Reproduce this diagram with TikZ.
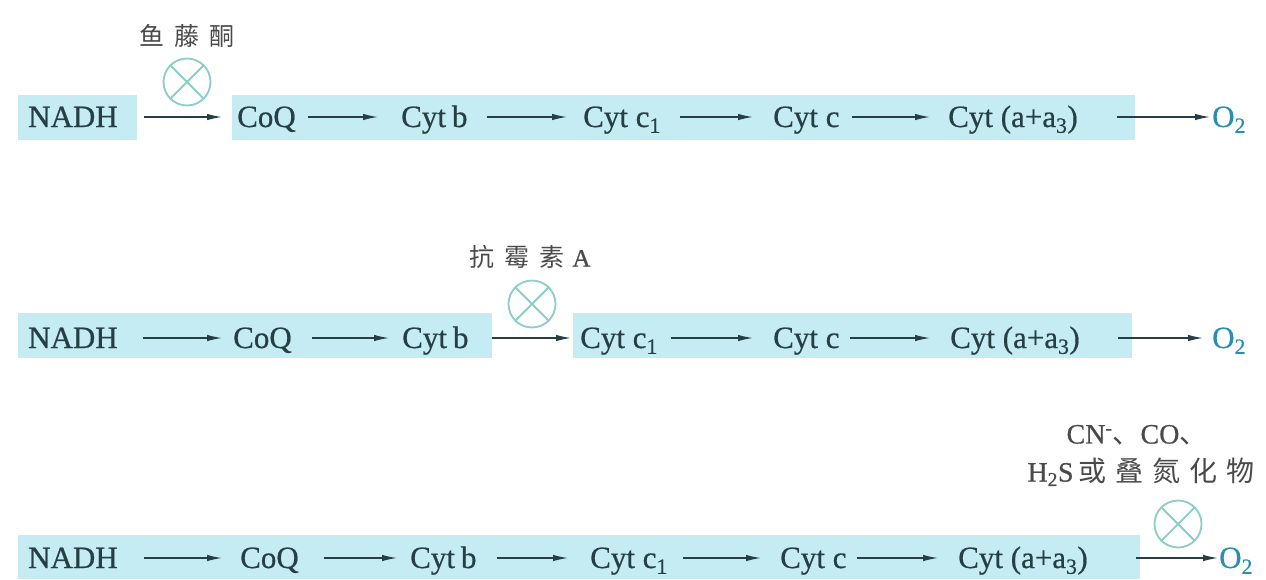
\documentclass[tikz,border=0pt]{standalone}
\usepackage{fontspec}
\setmainfont{Liberation Serif}[FakeBold=0.6]
\newfontfamily\cjk{Noto Sans CJK SC}
\usetikzlibrary{arrows.meta}
\definecolor{band}{HTML}{C4ECF2}
\definecolor{ink}{HTML}{263F44}
\definecolor{oxy}{HTML}{2A8DB3}
\definecolor{inhib}{HTML}{8ACDC9}
\definecolor{lab}{HTML}{4A4A4A}
\begin{document}
\begin{tikzpicture}[x=1pt,y=-1pt,
  item/.style={inner sep=0pt, text height=20pt, text depth=0pt, anchor=west, text=ink, font=\fontsize{31}{36}\selectfont},
  oxnode/.style={item, text=oxy},
  arr/.style={draw=ink, line width=1.3pt, -{Latex[length=15pt,width=6.5pt]}},
  blocker/.style={circle, draw=inhib, line width=1.8pt, minimum size=47pt, inner sep=0pt},
  cross/.style={draw=inhib, line width=1.8pt},
  lbl/.style={text=lab, inner sep=0pt, font=\fontsize{25}{30}\selectfont}
]
\useasboundingbox (0,0) rectangle (1266,579);
% bands
\fill[band] (18,95) rectangle (137,140);
\fill[band] (232,95) rectangle (1135,140);
\fill[band] (18,313) rectangle (492,358);
\fill[band] (573,313) rectangle (1132,358);
\fill[band] (18,535) rectangle (1140,579);

% row 1
\node[item] (a1) at (28,117) {NADH};
\node[item] (a2) at (237,117) {CoQ};
\node[item] (a3) at (401,117) {Cyt\kern6pt b};
\node[item] (a4) at (583,117) {Cyt c\textsubscript{1}};
\node[item] (a5) at (773,117) {Cyt c};
\node[item] (a6) at (948,117) {Cyt (a+a\textsubscript{3})};
\node[oxnode] (a7) at (1212,117) {O\textsubscript{2}};
\draw[arr, shorten <=26pt, shorten >=15pt] (a1.east) -- (a2.west);
\draw[arr, shorten <=12pt, shorten >=23pt] (a2.east) -- (a3.west);
\draw[arr, shorten <=19pt, shorten >=16pt] (a3.east) -- (a4.west);
\draw[arr, shorten <=19pt, shorten >=20pt] (a4.east) -- (a5.west);
\draw[arr, shorten <=12pt, shorten >=18pt] (a5.east) -- (a6.west);
\draw[arr, shorten <=39pt, shorten >=2pt] (a6.east) -- (a7.west);
\node[lbl] (r1) at (187,36) {\cjk 鱼\kern10pt 藤\kern10pt 酮};
\node[blocker] (k1) at (187,82) {};
\draw[cross] (k1.north east) -- (k1.south west) (k1.north west) -- (k1.south east);

% row 2
\node[item] (b1) at (28,338) {NADH};
\node[item] (b2) at (233,338) {CoQ};
\node[item] (b3) at (402,338) {Cyt\kern6pt b};
\node[item] (b4) at (580,338) {Cyt c\textsubscript{1}};
\node[item] (b5) at (773,338) {Cyt c};
\node[item] (b6) at (950,338) {Cyt (a+a\textsubscript{3})};
\node[oxnode] (b7) at (1212,338) {O\textsubscript{2}};
\draw[arr, shorten <=25pt, shorten >=11pt] (b1.east) -- (b2.west);
\draw[arr, shorten <=20pt, shorten >=13pt] (b2.east) -- (b3.west);
\draw[arr, shorten <=23pt, shorten >=9pt] (b3.east) -- (b4.west);
\draw[arr, shorten <=13pt, shorten >=20pt] (b4.east) -- (b5.west);
\draw[arr, shorten <=10pt, shorten >=20pt] (b5.east) -- (b6.west);
\draw[arr, shorten <=38pt, shorten >=9pt] (b6.east) -- (b7.west);
\node[lbl] (r2) at (530,257) {\cjk 抗\kern10pt 霉\kern10pt 素\kern8pt\rmfamily A};
\node[blocker] (k2) at (532,304) {};
\draw[cross] (k2.north east) -- (k2.south west) (k2.north west) -- (k2.south east);

% row 3
\node[item] (c1) at (28,558) {NADH};
\node[item] (c2) at (240,558) {CoQ};
\node[item] (c3) at (410,558) {Cyt\kern6pt b};
\node[item] (c4) at (590,558) {Cyt c\textsubscript{1}};
\node[item] (c5) at (780,558) {Cyt c};
\node[item] (c6) at (958,558) {Cyt (a+a\textsubscript{3})};
\node[oxnode] (c7) at (1219,558) {O\textsubscript{2}};
\draw[arr, shorten <=26pt, shorten >=18pt] (c1.east) -- (c2.west);
\draw[arr, shorten <=25pt, shorten >=13pt] (c2.east) -- (c3.west);
\draw[arr, shorten <=20pt, shorten >=22pt] (c3.east) -- (c4.west);
\draw[arr, shorten <=15pt, shorten >=19pt] (c4.east) -- (c5.west);
\draw[arr, shorten <=10pt, shorten >=20pt] (c5.east) -- (c6.west);
\draw[arr, shorten <=48pt, shorten >=1pt] (c6.east) -- (c7.west);
\node[lbl, font=\fontsize{28}{32}\selectfont] (r3a) at (1137,435) {CN\textsuperscript{-}{\cjk 、}CO{\cjk 、}};
\node[lbl, font=\fontsize{28}{32}\selectfont] (r3b) at (1141,472) {H\textsubscript{2}S\kern5pt{\cjk 或\kern9pt 叠\kern9pt 氮\kern9pt 化\kern9pt 物}};
\node[blocker] (k3) at (1178,524) {};
\draw[cross] (k3.north east) -- (k3.south west) (k3.north west) -- (k3.south east);
\end{tikzpicture}
\end{document}
